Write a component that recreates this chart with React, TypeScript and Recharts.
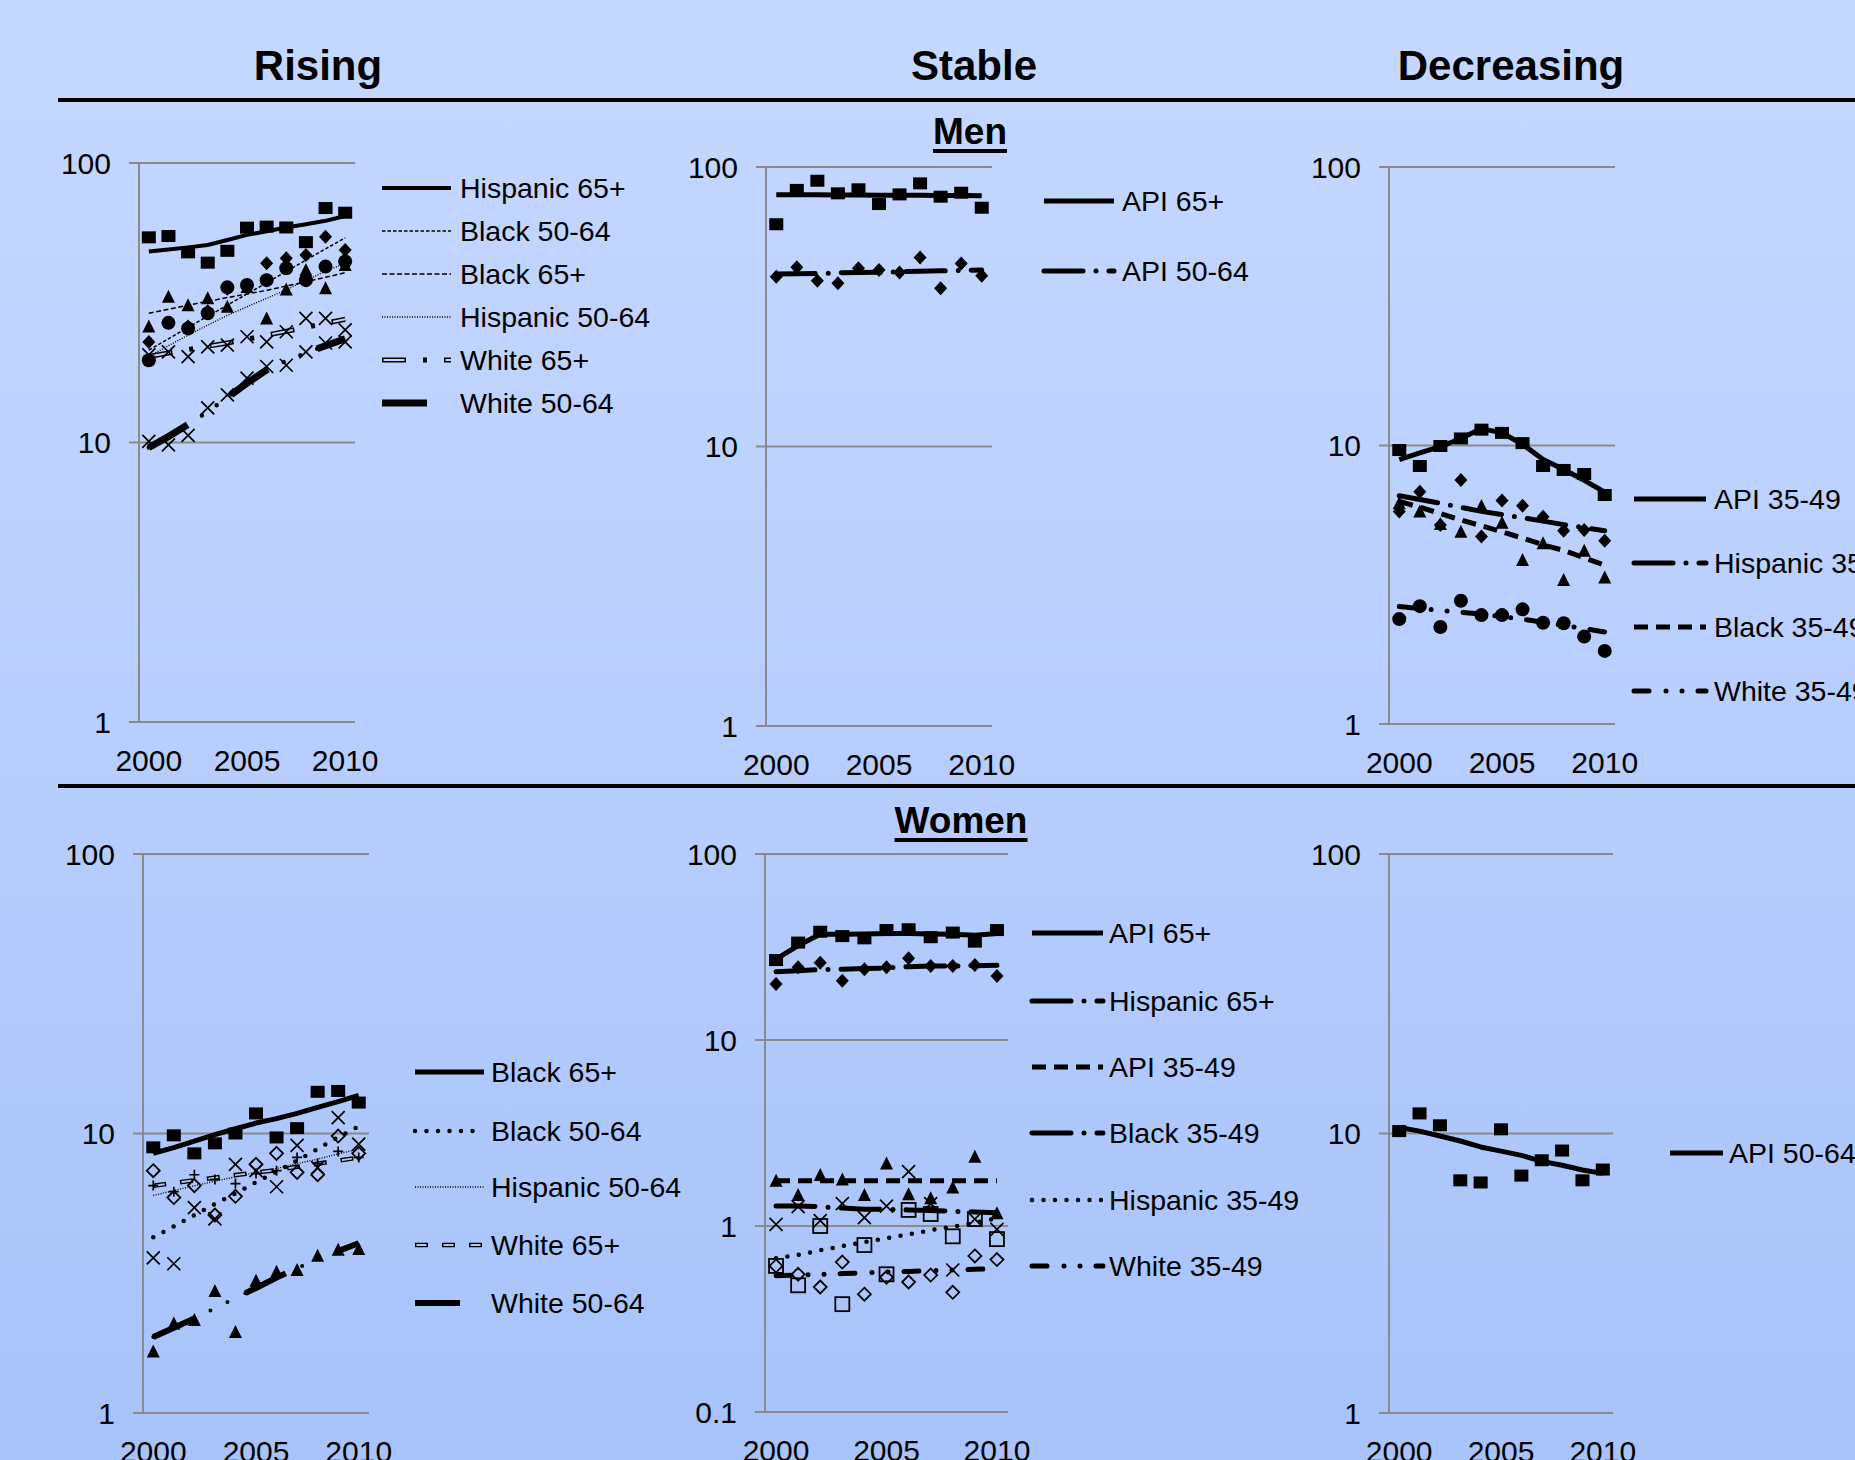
import React from "react";
import { CartesianGrid, ComposedChart, Line, Scatter, XAxis, YAxis } from "recharts";

// x categories and labels
const years = [2000, 2001, 2002, 2003, 2004, 2005, 2006, 2007, 2008, 2009, 2010];
const yearLabels = [2000, 2005, 2010];
const yearEdges = [1999.5, 2000.5, 2001.5, 2002.5, 2003.5, 2004.5, 2005.5, 2006.5, 2007.5, 2008.5, 2009.5, 2010.5];

// Men, rising
const menHisp65 = [54.2, 54.8, 47.9, 44.0, 48.5, 58.7, 59.2, 58.8, 52.1, 69.0, 66.4];
const menHisp65Fit = [48.2, 49.0, 49.9, 50.9, 53.0, 55.3, 57.0, 58.8, 60.4, 62.1, 64.6];
const menBlack5064 = [22.9, 26.8, 26.0, 29.5, 35.5, 36.6, 43.8, 45.6, 46.9, 54.5, 48.8];
const menBlack5064Fit = [21.4, 23.5, 25.8, 28.3, 31.0, 34.0, 37.3, 40.9, 44.9, 49.3, 54.0];
const menBlack65 = [26.0, 33.2, 31.0, 32.8, 30.6, 36.0, 27.8, 35.3, 41.4, 35.6, 43.2];
const menBlack65Fit = [29.0, 30.0, 31.0, 32.0, 33.0, 34.0, 35.0, 36.3, 37.6, 39.0, 40.5];
const menHisp5064 = [19.7, 26.8, 25.6, 29.0, 35.9, 36.6, 38.1, 42.0, 38.1, 42.6, 44.4];
const menHisp5064Fit = [20.3, 22.2, 24.2, 26.3, 28.5, 30.6, 32.8, 35.2, 38.0, 41.0, 43.8];
const menWhite65 = [20.6, 21.1, 20.3, 22.0, 22.3, 23.9, 22.9, 24.9, 27.8, 27.8, 25.3];
const menWhite65Fit = [20.3, 20.9, 21.5, 22.1, 22.7, 23.4, 24.2, 25.0, 25.8, 26.7, 27.6];
const menWhite5064 = [10.1, 9.8, 10.6, 13.3, 14.8, 17.0, 18.7, 18.9, 21.1, 22.7, 22.9];
const menWhite5064Fit = [9.6, 10.5, 11.6, 12.9, 14.5, 16.3, 18.2, 19.6, 20.9, 22.2, 23.5];

// Men, stable
const menApi65 = [62.4, 82.8, 89.3, 80.5, 83.2, 73.7, 79.8, 87.4, 78.3, 80.9, 71.5];
const menApi65Fit = [79.5, 79.5, 79.5, 79.4, 79.4, 79.3, 79.3, 79.2, 79.1, 79.0, 78.9];
const menApi5064 = [40.5, 43.8, 39.2, 38.4, 43.4, 42.8, 41.9, 47.4, 36.8, 45.2, 40.8];
const menApi5064Fit = [41.4, 41.5, 41.6, 41.8, 41.9, 42.0, 42.2, 42.4, 42.5, 42.6, 42.8];

// Men, decreasing
const menApi3549 = [9.63, 8.44, 9.96, 10.6, 11.4, 11.1, 10.2, 8.44, 8.17, 7.9, 6.64];
const menApi3549Fit = [8.9, 9.4, 9.9, 10.6, 11.5, 11.1, 10.1, 8.9, 8.2, 7.5, 6.8];
const menHisp3549 = [5.79, 6.82, 5.18, 7.52, 4.71, 6.34, 6.08, 5.55, 4.94, 4.97, 4.55];
const menHisp3549Fit = [6.6, 6.4, 6.2, 6.0, 5.8, 5.65, 5.5, 5.35, 5.2, 5.07, 4.94];
const menBlack3549 = [6.2, 5.79, 5.23, 4.9, 6.06, 5.28, 3.88, 4.46, 3.29, 4.19, 3.36];
const menBlack3549Fit = [6.3, 6.0, 5.7, 5.4, 5.15, 4.9, 4.65, 4.4, 4.2, 3.95, 3.72];
const menWhite3549 = [2.38, 2.65, 2.23, 2.77, 2.46, 2.46, 2.58, 2.31, 2.3, 2.06, 1.83];
const menWhite3549Fit = [2.64, 2.6, 2.56, 2.52, 2.48, 2.43, 2.38, 2.32, 2.26, 2.2, 2.14];

// Women, rising
const womBlack65 = [8.92, 9.85, 8.49, 9.22, 10.0, 11.8, 9.68, 10.45, 14.1, 14.2, 12.9];
const womBlack65Fit = [8.5, 8.9, 9.4, 9.9, 10.4, 10.9, 11.3, 11.8, 12.4, 13.0, 13.7];
const womBlack5064 = [3.59, 3.42, 5.43, 4.95, 7.76, 7.36, 6.45, 9.07, 7.55, 11.4, 9.16];
const womBlack5064Fit = [4.25, 4.65, 5.1, 5.6, 6.1, 6.7, 7.3, 8.0, 8.8, 9.7, 10.6];
const womHisp5064 = [7.36, 5.9, 6.51, 5.11, 5.96, 7.76, 8.49, 7.26, 7.12, 9.79, 8.49];
const womHisp5064Fit = [6.0, 6.25, 6.5, 6.75, 7.0, 7.25, 7.5, 7.8, 8.1, 8.45, 8.8];
const womWhite65 = [6.51, 6.19, 7.12, 6.84, 6.62, 7.19, 7.36, 8.21, 7.81, 8.63, 8.21];
const womWhite65Fit = [6.5, 6.65, 6.8, 6.95, 7.1, 7.25, 7.4, 7.6, 7.8, 8.0, 8.2];
const womWhite5064 = [1.66, 2.09, 2.15, 2.73, 1.95, 2.97, 3.2, 3.25, 3.65, 3.84, 3.86];
const womWhite5064Fit = [1.87, 2.02, 2.18, 2.37, 2.58, 2.8, 3.05, 3.3, 3.55, 3.8, 4.05];

// Women, stable
const womApi65 = [26.9, 33.4, 38.2, 36.2, 35.2, 39.0, 39.4, 35.7, 37.8, 33.8, 39.0];
const womApi65Fit = [27.2, 32.2, 37.0, 37.0, 37.2, 37.4, 37.4, 37.2, 37.0, 36.6, 37.4];
const womHisp65 = [20.0, 24.6, 26.0, 20.8, 24.0, 24.6, 27.5, 25.0, 25.0, 25.3, 22.1];
const womHisp65Fit = [23.3, 23.6, 23.9, 24.0, 24.2, 24.4, 24.8, 25.0, 25.0, 25.1, 25.2];
const womApi3549 = [1.75, 1.47, 1.88, 1.78, 1.47, 2.17, 1.48, 1.41, 1.61, 2.36, 1.17];
const womApi3549Fit = [1.75, 1.75, 1.75, 1.75, 1.75, 1.75, 1.75, 1.75, 1.75, 1.75, 1.75];
const womBlack3549 = [1.02, 1.27, 1.07, 1.32, 1.11, 1.28, 1.96, 1.32, 0.58, 1.09, 0.96];
const womBlack3549Fit = [1.28, 1.28, 1.27, 1.25, 1.23, 1.23, 1.22, 1.21, 1.2, 1.19, 1.18];
const womHisp3549 = [0.61, 0.48, 1.0, 0.38, 0.79, 0.55, 1.22, 1.16, 0.88, 1.09, 0.85];
const womHisp3549Fit = [0.67, 0.7, 0.74, 0.78, 0.82, 0.86, 0.9, 0.95, 0.99, 1.04, 1.1];
const womWhite3549 = [0.61, 0.55, 0.47, 0.64, 0.43, 0.53, 0.5, 0.545, 0.44, 0.69, 0.66];
const womWhite3549Fit = [0.54, 0.545, 0.55, 0.555, 0.56, 0.565, 0.57, 0.575, 0.58, 0.585, 0.59];

// Women, decreasing
const womApi5064 = [10.2, 11.8, 10.7, 6.8, 6.68, 10.35, 7.07, 8.02, 8.69, 6.8, 7.43];
const womApi5064Fit = [10.5, 10.2, 9.8, 9.4, 8.95, 8.65, 8.35, 7.95, 7.7, 7.4, 7.2];

const FONT = "'Liberation Sans', Arial, Helvetica, sans-serif";
const GRID = "#8a8a8a";

type MarkerKind = "square" | "diamond" | "triangle" | "circle" | "x" | "plus" | "openSquare" | "openDiamond";

type LineStyle = {
  width: number;
  dash?: string;
  cap?: "round" | "butt";
  inner?: { width: number; dash: string; offset: number };
  dots?: { width: number; dash: string };
};

type Series = {
  name: string;
  pts: number[];
  fit: number[];
  marker: MarkerKind;
  line: LineStyle;
  legendLen?: number;
};

// line styles
const solid5: LineStyle = { width: 5 };
const longDashDot: LineStyle = { width: 5, dash: "39 13 0 13", cap: "round" };
const dashDotDot: LineStyle = { width: 5, dash: "15 17 0 16 0 16", cap: "round" };
const dashed5: LineStyle = { width: 5, dash: "14 8" };
const roundDots: LineStyle = { width: 4.5, dash: "0 11.5", cap: "round" };
const fineDots: LineStyle = { width: 1.4, dash: "1 1.5" };

function marker(kind: MarkerKind) {
  return (props: any) => {
    const { cx, cy } = props;
    if (cx == null || cy == null) return <g />;
    switch (kind) {
      case "square":
        return <rect x={cx - 7} y={cy - 6} width={14} height={12} fill="#000" />;
      case "diamond":
        return <polygon points={`${cx},${cy - 7} ${cx + 6.5},${cy} ${cx},${cy + 7} ${cx - 6.5},${cy}`} fill="#000" />;
      case "triangle":
        return <polygon points={`${cx},${cy - 7} ${cx + 6.5},${cy + 6} ${cx - 6.5},${cy + 6}`} fill="#000" />;
      case "circle":
        return <circle cx={cx} cy={cy} r={7} fill="#000" />;
      case "x":
        return (
          <path
            d={`M${cx - 6.5},${cy - 6.5}L${cx + 6.5},${cy + 6.5}M${cx + 6.5},${cy - 6.5}L${cx - 6.5},${cy + 6.5}`}
            stroke="#000"
            strokeWidth={1.7}
            fill="none"
          />
        );
      case "plus":
        return <path d={`M${cx - 5},${cy}L${cx + 5},${cy}M${cx},${cy - 5}L${cx},${cy + 5}`} stroke="#000" strokeWidth={1.7} />;
      case "openSquare":
        return <rect x={cx - 7} y={cy - 7} width={14} height={14} fill="none" stroke="#000" strokeWidth={1.8} />;
      default:
        return (
          <polygon
            points={`${cx},${cy - 6.5} ${cx + 6.5},${cy} ${cx},${cy + 6.5} ${cx - 6.5},${cy}`}
            fill="none"
            stroke="#000"
            strokeWidth={1.8}
          />
        );
    }
  };
}

const menRising: Series[] = [
  { name: "Hispanic 65+", pts: menHisp65, fit: menHisp65Fit, marker: "square", line: { width: 4 } },
  { name: "Black 50-64", pts: menBlack5064, fit: menBlack5064Fit, marker: "diamond", line: { width: 1.5, dash: "3.5 2" } },
  { name: "Black 65+", pts: menBlack65, fit: menBlack65Fit, marker: "triangle", line: { width: 1.5, dash: "5 2.5" } },
  { name: "Hispanic 50-64", pts: menHisp5064, fit: menHisp5064Fit, marker: "circle", line: fineDots },
  {
    name: "White 65+",
    pts: menWhite65,
    fit: menWhite65Fit,
    marker: "x",
    line: { width: 5, dash: "24 17 4 17", inner: { width: 2, dash: "21 41", offset: -1.5 } },
  },
  {
    name: "White 50-64",
    pts: menWhite5064,
    fit: menWhite5064Fit,
    marker: "x",
    line: { width: 7, dash: "45 53", dots: { width: 4.5, dash: "0 62 0 18 0 18" } },
    legendLen: 47,
  },
];

const menStable: Series[] = [
  { name: "API 65+", pts: menApi65, fit: menApi65Fit, marker: "square", line: solid5 },
  { name: "API 50-64", pts: menApi5064, fit: menApi5064Fit, marker: "diamond", line: longDashDot },
];

const menDecreasing: Series[] = [
  { name: "API 35-49", pts: menApi3549, fit: menApi3549Fit, marker: "square", line: solid5 },
  { name: "Hispanic 35-49", pts: menHisp3549, fit: menHisp3549Fit, marker: "diamond", line: longDashDot },
  { name: "Black 35-49", pts: menBlack3549, fit: menBlack3549Fit, marker: "triangle", line: dashed5 },
  { name: "White 35-49", pts: menWhite3549, fit: menWhite3549Fit, marker: "circle", line: dashDotDot },
];

const womRising: Series[] = [
  { name: "Black 65+", pts: womBlack65, fit: womBlack65Fit, marker: "square", line: solid5 },
  { name: "Black 50-64", pts: womBlack5064, fit: womBlack5064Fit, marker: "x", line: roundDots },
  { name: "Hispanic 50-64", pts: womHisp5064, fit: womHisp5064Fit, marker: "openDiamond", line: fineDots },
  {
    name: "White 65+",
    pts: womWhite65,
    fit: womWhite65Fit,
    marker: "plus",
    line: { width: 4.5, dash: "13 14", inner: { width: 1.8, dash: "10 17", offset: -1.5 } },
  },
  {
    name: "White 50-64",
    pts: womWhite5064,
    fit: womWhite5064Fit,
    marker: "triangle",
    line: { width: 6, dash: "45 57", dots: { width: 4, dash: "0 63 0 19 0 20" } },
    legendLen: 47,
  },
];

const womStable: Series[] = [
  { name: "API 65+", pts: womApi65, fit: womApi65Fit, marker: "square", line: solid5 },
  { name: "Hispanic 65+", pts: womHisp65, fit: womHisp65Fit, marker: "diamond", line: longDashDot },
  { name: "API 35-49", pts: womApi3549, fit: womApi3549Fit, marker: "triangle", line: dashed5 },
  { name: "Black 35-49", pts: womBlack3549, fit: womBlack3549Fit, marker: "x", line: longDashDot },
  { name: "Hispanic 35-49", pts: womHisp3549, fit: womHisp3549Fit, marker: "openSquare", line: roundDots },
  { name: "White 35-49", pts: womWhite3549, fit: womWhite3549Fit, marker: "openDiamond", line: dashDotDot },
];

const womDecreasing: Series[] = [
  { name: "API 50-64", pts: womApi5064, fit: womApi5064Fit, marker: "square", line: solid5 },
];

type Box = { x: number; y: number; w: number; h: number };

type PanelProps = {
  series: Series[];
  box: Box;
  yDomain: [number, number];
  yTicks: number[];
  bg: string;
};

function Panel({ series, box, yDomain, yTicks, bg }: PanelProps) {
  const data = years.map((year, i) => {
    const row: Record<string, number> = { year };
    series.forEach((s, k) => {
      row[`p${k}`] = s.pts[i];
      row[`f${k}`] = s.fit[i];
    });
    return row;
  });
  const ML = 100;
  const MT = 15;
  const MR = 50;
  const LAB = 60;

  return (
    <div style={{ position: "absolute", left: box.x - ML, top: box.y - MT }}>
      <ComposedChart
        width={box.w + ML + MR}
        height={box.h + MT + LAB}
        data={data}
        margin={{ top: MT, right: MR, left: 0, bottom: 0 }}
      >
        <CartesianGrid xAxisId="edge" vertical={false} stroke={GRID} strokeWidth={2} />
        <XAxis
          xAxisId="edge"
          dataKey="year"
          type="number"
          domain={[1999.5, 2010.5]}
          ticks={yearEdges}
          interval={0}
          tick={false}
          tickSize={9}
          height={0}
          axisLine={{ stroke: GRID, strokeWidth: 2 }}
          tickLine={{ stroke: GRID, strokeWidth: 2 }}
        />
        <XAxis
          xAxisId="lab"
          dataKey="year"
          type="number"
          domain={[1999.5, 2010.5]}
          ticks={yearLabels}
          interval={0}
          axisLine={false}
          tickLine={false}
          tickSize={0}
          tickMargin={28}
          height={LAB}
          tick={{ fontSize: 30, fill: "#000", fontFamily: FONT }}
        />
        <YAxis
          scale="log"
          type="number"
          domain={yDomain}
          ticks={yTicks}
          interval={0}
          allowDataOverflow
          width={ML}
          tickSize={10}
          tickMargin={18}
          axisLine={{ stroke: GRID, strokeWidth: 2 }}
          tickLine={{ stroke: GRID, strokeWidth: 2 }}
          tick={{ fontSize: 30, fill: "#000", fontFamily: FONT }}
          tickFormatter={(v: number) => String(v)}
        />
        {series.map((s, k) => (
          <Scatter
            key={`p${k}`}
            name={`${s.name} points`}
            xAxisId="edge"
            dataKey={`p${k}`}
            shape={marker(s.marker)}
            isAnimationActive={false}
          />
        ))}
        {series.map((s, k) => (
          <Line
            key={`f${k}`}
            name={s.name}
            xAxisId="edge"
            dataKey={`f${k}`}
            type="linear"
            stroke="#000"
            strokeWidth={s.line.width}
            strokeDasharray={s.line.dash}
            strokeLinecap={s.line.cap ?? "butt"}
            strokeLinejoin="round"
            dot={false}
            activeDot={false}
            isAnimationActive={false}
          />
        ))}
        {series.map((s, k) =>
          s.line.inner ? (
            <Line
              key={`i${k}`}
              name={`${s.name} inner`}
              xAxisId="edge"
              dataKey={`f${k}`}
              type="linear"
              stroke={bg}
              strokeWidth={s.line.inner.width}
              strokeDasharray={s.line.inner.dash}
              strokeDashoffset={s.line.inner.offset}
              dot={false}
              activeDot={false}
              isAnimationActive={false}
            />
          ) : null
        )}
        {series.map((s, k) =>
          s.line.dots ? (
            <Line
              key={`d${k}`}
              name={`${s.name} dots`}
              xAxisId="edge"
              dataKey={`f${k}`}
              type="linear"
              stroke="#000"
              strokeWidth={s.line.dots.width}
              strokeDasharray={s.line.dots.dash}
              strokeLinecap="round"
              dot={false}
              activeDot={false}
              isAnimationActive={false}
            />
          ) : null
        )}
      </ComposedChart>
    </div>
  );
}

type LegendProps = {
  series: Series[];
  lineX: number;
  len: number;
  textX: number;
  rows: number[];
  bg: string;
};

function LegendBlock({ series, lineX, len, textX, rows, bg }: LegendProps) {
  return (
    <g>
      {series.map((s, k) => {
        const y = rows[k];
        const x2 = lineX + (s.legendLen ?? len);
        return (
          <g key={s.name}>
            <line
              x1={lineX}
              x2={x2}
              y1={y}
              y2={y}
              stroke="#000"
              strokeWidth={s.line.width}
              strokeDasharray={s.line.dash}
              strokeLinecap={s.line.cap ?? "butt"}
            />
            {s.line.inner && (
              <line
                x1={lineX}
                x2={x2}
                y1={y}
                y2={y}
                stroke={bg}
                strokeWidth={s.line.inner.width}
                strokeDasharray={s.line.inner.dash}
                strokeDashoffset={s.line.inner.offset}
              />
            )}
            <text x={textX} y={y} dy="0.35em" fontSize={28.5} fontFamily={FONT} fill="#000">
              {s.name}
            </text>
          </g>
        );
      })}
    </g>
  );
}

const headStyle: React.CSSProperties = {
  position: "absolute",
  width: 400,
  textAlign: "center",
  fontFamily: FONT,
  fontWeight: "bold",
  color: "#000",
  whiteSpace: "nowrap",
};

export default function App() {
  const topBg = "#bfd3fe";
  const botBg = "#adc7fb";
  return (
    <div
      style={{
        position: "absolute",
        left: 0,
        top: 0,
        width: 1855,
        height: 1460,
        overflow: "hidden",
        background: "linear-gradient(180deg, #c5d8ff 0%, #b8cefd 50%, #a7c3fa 100%)",
        fontFamily: FONT,
      }}
    >
      <div style={{ ...headStyle, left: 318 - 200, top: 45, fontSize: 42, lineHeight: "42px" }}>Rising</div>
      <div style={{ ...headStyle, left: 974 - 200, top: 45, fontSize: 42, lineHeight: "42px" }}>Stable</div>
      <div style={{ ...headStyle, left: 1511 - 200, top: 45, fontSize: 42, lineHeight: "42px" }}>Decreasing</div>
      <div style={{ position: "absolute", left: 58, top: 98, width: 1797, height: 4, background: "#000" }} />
      <div style={{ position: "absolute", left: 58, top: 784, width: 1797, height: 4, background: "#000" }} />
      <div
        style={{
          ...headStyle,
          left: 970 - 200,
          top: 113,
          fontSize: 37,
          lineHeight: "37px",
          textDecoration: "underline",
          textDecorationThickness: "3.5px",
          textUnderlineOffset: "5px",
        }}
      >
        Men
      </div>
      <div
        style={{
          ...headStyle,
          left: 961 - 200,
          top: 802,
          fontSize: 37,
          lineHeight: "37px",
          textDecoration: "underline",
          textDecorationThickness: "3.5px",
          textUnderlineOffset: "5px",
        }}
      >
        Women
      </div>

      <Panel series={menRising} box={{ x: 139, y: 163, w: 216, h: 559 }} yDomain={[1, 100]} yTicks={[1, 10, 100]} bg={topBg} />
      <Panel series={menStable} box={{ x: 766, y: 167, w: 226, h: 559 }} yDomain={[1, 100]} yTicks={[1, 10, 100]} bg={topBg} />
      <Panel series={menDecreasing} box={{ x: 1389, y: 167, w: 226, h: 557 }} yDomain={[1, 100]} yTicks={[1, 10, 100]} bg={topBg} />
      <Panel series={womRising} box={{ x: 143, y: 854, w: 226, h: 559 }} yDomain={[1, 100]} yTicks={[1, 10, 100]} bg={botBg} />
      <Panel series={womStable} box={{ x: 765, y: 854, w: 243, h: 558 }} yDomain={[0.1, 100]} yTicks={[0.1, 1, 10, 100]} bg={botBg} />
      <Panel series={womDecreasing} box={{ x: 1389, y: 854, w: 224, h: 559 }} yDomain={[1, 100]} yTicks={[1, 10, 100]} bg={botBg} />

      <svg width={1855} height={1460} style={{ position: "absolute", left: 0, top: 0, pointerEvents: "none" }}>
        <LegendBlock series={menRising} lineX={382} len={69} textX={460} rows={[188, 231, 274, 317, 360, 403]} bg={topBg} />
        <LegendBlock series={menStable} lineX={1044} len={70} textX={1122} rows={[201, 271]} bg={topBg} />
        <LegendBlock series={menDecreasing} lineX={1634} len={72} textX={1714} rows={[499, 563, 627, 691]} bg={topBg} />
        <LegendBlock series={womRising} lineX={415} len={69} textX={491} rows={[1072, 1131, 1187, 1245, 1303]} bg={botBg} />
        <LegendBlock series={womStable} lineX={1032} len={71} textX={1109} rows={[933, 1001, 1067, 1133, 1200, 1266]} bg={botBg} />
        <LegendBlock series={womDecreasing} lineX={1670} len={53} textX={1729} rows={[1153]} bg={botBg} />
      </svg>
    </div>
  );
}
